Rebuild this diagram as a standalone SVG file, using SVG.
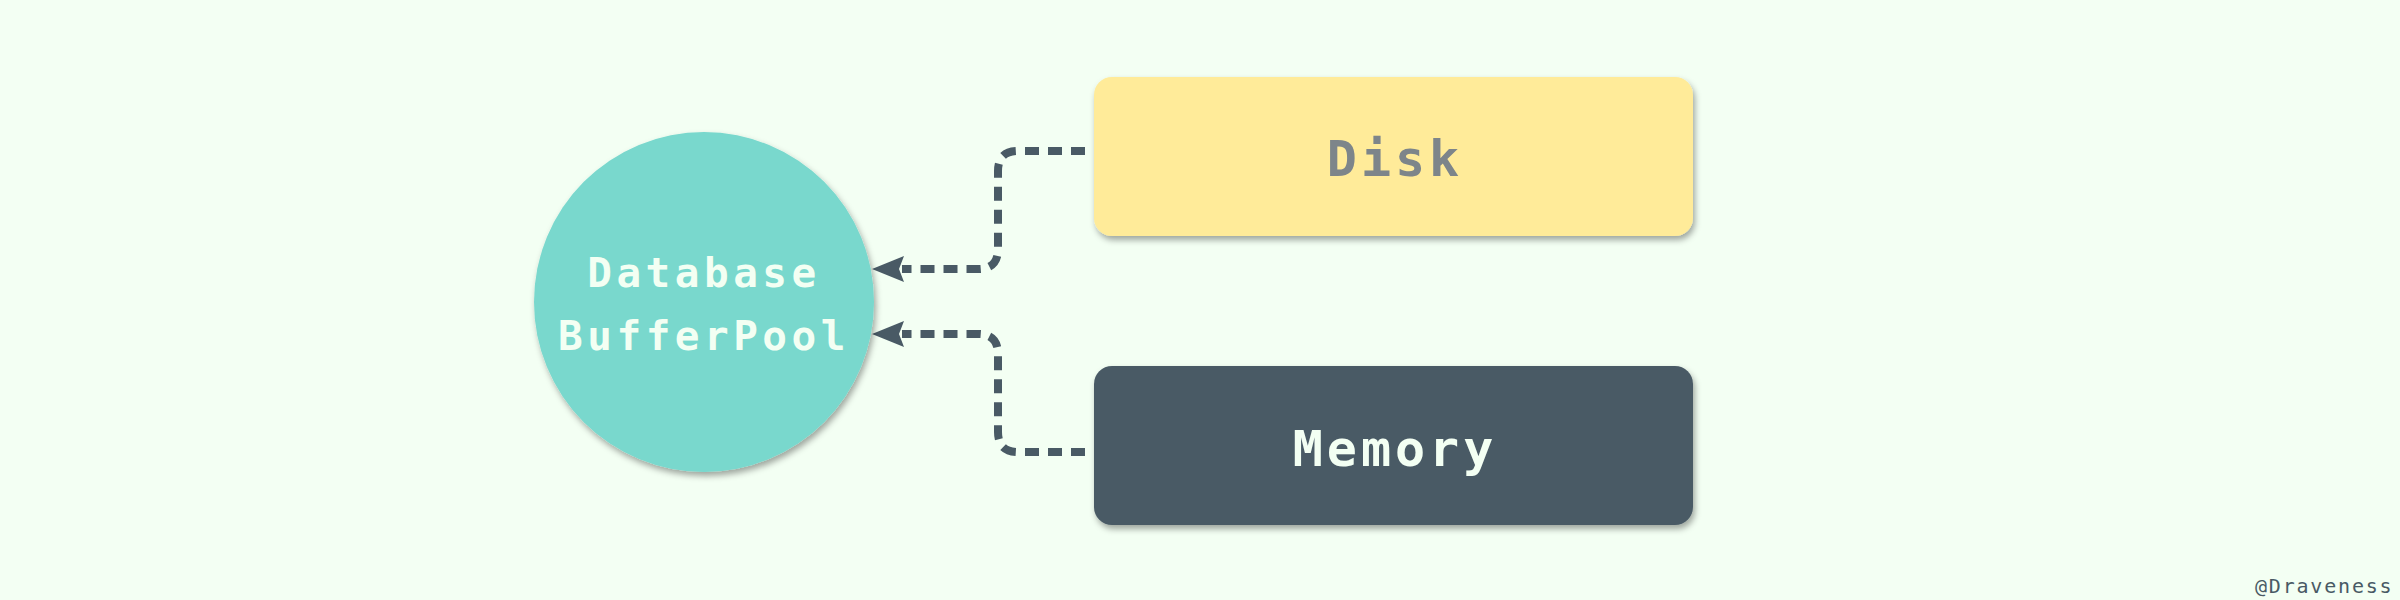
<svg xmlns="http://www.w3.org/2000/svg" width="2400" height="600" viewBox="0 0 2400 600">
  <defs>
    <style>
      .lbl { font-family: "DejaVu Sans Mono", "Liberation Mono", monospace; font-weight: bold; text-anchor: middle; }
      .conn { fill: none; stroke: #495a65; stroke-width: 8; stroke-dasharray: 14 9; }
    </style>
    <filter id="sh" x="-20%" y="-20%" width="140%" height="150%">
      <feDropShadow dx="2" dy="4" stdDeviation="3" flood-color="#000" flood-opacity="0.35"/>
    </filter>
    <marker id="arr" viewBox="0 0 32 26" refX="2" refY="13" markerWidth="32" markerHeight="26" markerUnits="userSpaceOnUse" orient="auto-start-reverse">
      <path d="M0,0 L32,13 L0,26 L5,13 Z" fill="#495a65"/>
    </marker>
  </defs>
  <rect width="2400" height="600" fill="#f3fff3"/>

  <g id="connectors">
    <path class="conn" d="M1085,151 L1018,151 Q998,151 998,171 L998,249 Q998,269 978,269 L902,269" marker-end="url(#arr)"/>
    <path class="conn" d="M1085,452 L1018,452 Q998,452 998,432 L998,354 Q998,334 978,334 L902,334" marker-end="url(#arr)"/>
  </g>

  <g id="node-bufferpool">
    <circle cx="704" cy="302" r="170" fill="#79d8cd" filter="url(#sh)"/>
    <text class="lbl" x="704" y="287" font-size="41" letter-spacing="4.5" fill="#f3fff3">Database</text>
    <text class="lbl" x="704" y="350" font-size="41" letter-spacing="4.5" fill="#f3fff3">BufferPool</text>
  </g>

  <g id="node-disk">
    <rect x="1094" y="77" width="599" height="159" rx="18" fill="#ffeb99" filter="url(#sh)"/>
    <text class="lbl" x="1395" y="176" font-size="50" letter-spacing="4" fill="#7d858a">Disk</text>
  </g>

  <g id="node-memory">
    <rect x="1094" y="366" width="599" height="159" rx="18" fill="#495a65" filter="url(#sh)"/>
    <text class="lbl" x="1395" y="466" font-size="50" letter-spacing="4" fill="#f3fff3">Memory</text>
  </g>

  <text x="2255" y="593" font-family="DejaVu Sans Mono, Liberation Mono, monospace" font-size="20" letter-spacing="1.8" fill="#495a65">@Draveness</text>
</svg>
